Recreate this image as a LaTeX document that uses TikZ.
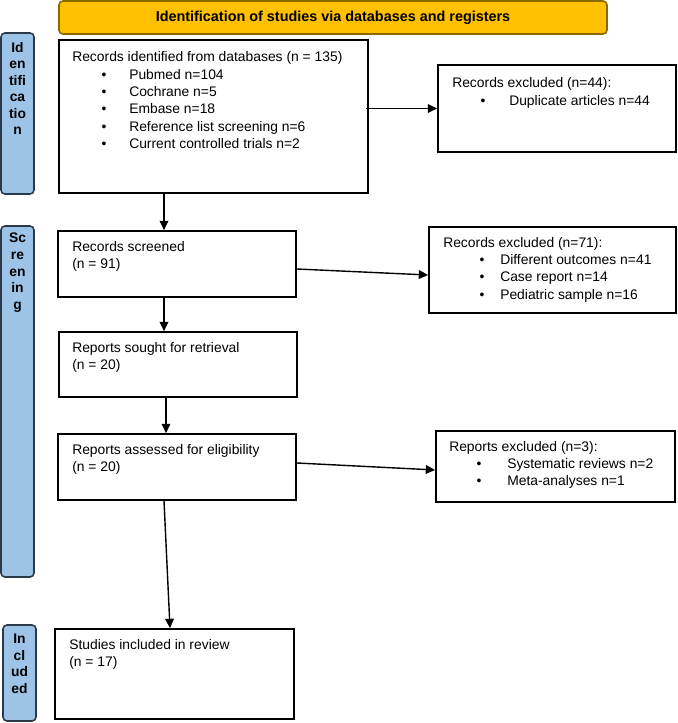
\documentclass[tikz,border=0pt]{standalone}
\usepackage{fontspec}
\setmainfont{Liberation Sans}
\usetikzlibrary{fit,arrows.meta,calc}
\definecolor{hdrfill}{HTML}{FFC000}
\definecolor{hdrline}{HTML}{8A6A00}
\definecolor{sidefill}{HTML}{9DC3E6}
\definecolor{sideline}{HTML}{2B3A4A}
\newcommand\blt[2]{\hspace*{#1}\makebox[#2][l]{•}}
\begin{document}
\begin{tikzpicture}[x=0.75pt,y=-0.75pt,
  box/.style={draw, line width=1.3pt, inner sep=0pt},
  txt/.style={anchor=north west, inner sep=0pt, align=left, font=\fontsize{10.4}{13}\selectfont},
  sidebar/.style={draw=sideline, fill=sidefill, line width=1.2pt, rounded corners=3pt, inner sep=0pt},
  sidetxt/.style={anchor=north, inner sep=0pt, align=center, font=\bfseries\fontsize{10.4}{12.4}\selectfont},
  hdrbox/.style={draw=hdrline, fill=hdrfill, line width=1.2pt, rounded corners=3pt, inner sep=0pt},
  hdrtxt/.style={inner sep=0pt, font=\bfseries\fontsize{10.8}{12}\selectfont},
  arr/.style={-{Triangle[length=7pt,width=6.5pt]}, line width=1.05pt}]
\useasboundingbox (0,0) rectangle (677,723);

% header
\node[hdrbox, fit={(59,1) (607,34)}] (hdr) {};
\node[hdrtxt, anchor=base] (hdrt) at (333,21.5) {Identification of studies via databases and registers};

% side bars
\node[sidebar, fit={(1,33) (34,194)}] (s1) {};
\node[sidebar, fit={(1,226) (34,577)}] (s2) {};
\node[sidebar, fit={(3,625) (36,721)}] (s3) {};
\node[sidetxt] (s1t) at (17.5,42) {Id\\en\\tifi\\ca\\tio\\n};
\node[sidetxt] (s2t) at (17.5,233) {Sc\\re\\en\\in\\g};
\node[sidetxt] (s3t) at (19.5,634) {In\\cl\\ud\\ed};

% main boxes
\node[box, fit={(59,40) (368,193)}] (b1) {};
\node[box, fit={(58,231) (296,297)}] (b2) {};
\node[box, fit={(59,332) (297,397)}] (b3) {};
\node[box, fit={(58,434) (296,500)}] (b4) {};
\node[box, fit={(55,629) (294,719)}] (b5) {};

% exclusion boxes
\node[box, fit={(438,65) (676,152)}] (e1) {};
\node[box, fit={(429,227) (676,313)}] (e2) {};
\node[box, fit={(436,431) (675,502)}] (e3) {};

% texts
\node[txt] (b1t) at (72,51.5) {Records identified from databases (n = 135)\\
\blt{22pt}{20.75pt}Pubmed n=104\\
\blt{22pt}{20.75pt}Cochrane n=5\\
\blt{22pt}{20.75pt}Embase n=18\\
\blt{22pt}{20.75pt}Reference list screening n=6\\
\blt{22pt}{20.75pt}Current controlled trials n=2};
\node[txt] (b2t) at (72,241) {Records screened\\(n = 91)};
\node[txt] (b3t) at (72,342) {Reports sought for retrieval\\(n = 20)};
\node[txt] (b4t) at (72,444) {Reports assessed for eligibility\\(n = 20)};
\node[txt] (b5t) at (69,639) {Studies included in review\\(n = 17)};

\node[txt] (e1t) at (452,77.5) {Records excluded (n=44):\\
\blt{21.3pt}{21.45pt}Duplicate articles n=44};
\node[txt] (e2t) at (443,237) {Records excluded (n=71):\\
\blt{27.3pt}{15.45pt}Different outcomes n=41\\
\blt{27.3pt}{15.45pt}Case report n=14\\
\blt{27.3pt}{15.45pt}Pediatric sample n=16};
\node[txt] (e3t) at (449,441) {Reports excluded (n=3):\\
\blt{20.5pt}{23pt}Systematic reviews n=2\\
\blt{20.5pt}{23pt}Meta-analyses n=1};

% connectors
\coordinate (xa) at (164,0);
\coordinate (xb) at (166,0);
\coordinate (xc) at (170,0);
\draw[arr] (b1.south -| xa) -- (b2.north -| xa);
\draw[arr] (b2.south -| xa) -- (b3.north -| xa);
\draw[arr] (b3.south -| xb) -- (b4.north -| xb);
\draw[arr] (b4.south -| xa) -- (b5.north -| xc);
\draw[arr] ([xshift=-2pt]b1.east |- e1.west) -- (e1.west);
\draw[arr] ([yshift=-3.75pt]b2.east) -- ([yshift=-3.75pt]e2.west);
\draw[arr] ([yshift=3pt]b4.east) -- ([yshift=-2.6pt]e3.west);
\end{tikzpicture}
\end{document}
